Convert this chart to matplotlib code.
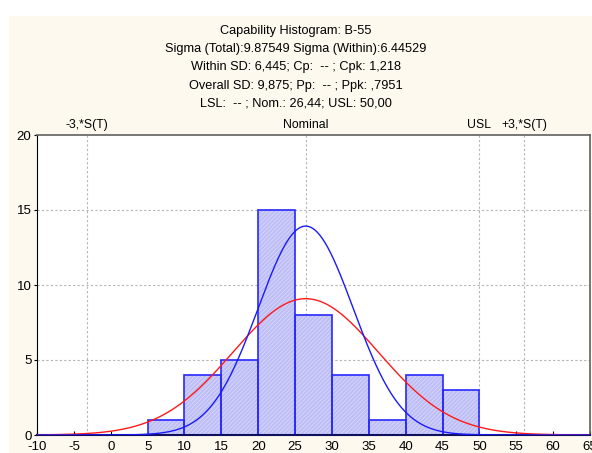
import numpy as np
import matplotlib.pyplot as plt
from matplotlib.patches import Rectangle
import matplotlib.transforms as mtransforms

# histogram data
bin_edges = [5, 10, 15, 20, 25, 30, 35, 40, 45, 50]
counts = [1, 4, 5, 15, 8, 4, 1, 4, 3]

# capability statistics
nominal = 26.44
usl = 50.0
sigma_total = 9.87549
sigma_within = 6.44529

title_lines = [
    "Capability Histogram: B-55",
    "Sigma (Total):9.87549 Sigma (Within):6.44529",
    "Within SD: 6,445; Cp:  -- ; Cpk: 1,218",
    "Overall SD: 9,875; Pp:  -- ; Ppk: ,7951",
    "LSL:  -- ; Nom.: 26,44; USL: 50,00",
]

xticks = list(range(-10, 70, 5))
yticks = [0, 5, 10, 15, 20]

plt.rcParams['font.family'] = ['Liberation Sans', 'DejaVu Sans']
plt.rcParams['axes.unicode_minus'] = False
plt.rcParams['hatch.linewidth'] = 0.6

fig = plt.figure(figsize=(5.92, 4.53), dpi=100, facecolor='white')
fig.patches.append(Rectangle((9 / 592, 0), 1, 1 - 16 / 453, transform=fig.transFigure,
                             facecolor='#fdf9ee', edgecolor='none', zorder=-10))
ax = fig.add_axes([37 / 592, 18 / 453, 553 / 592, 300 / 453])
ax.set_facecolor('white')

# bars: hatched fill first (hatch takes the edge colour), then the blue outline
widths = np.diff(bin_edges)
ax.bar(bin_edges[:-1], counts, width=widths, align='edge', facecolor='#bebef6',
       edgecolor='#d8d8fc', linewidth=0, hatch='////////', zorder=2)
ax.bar(bin_edges[:-1], counts, width=widths, align='edge', facecolor='none',
       edgecolor='#2828ff', linewidth=1.2, zorder=2)

# fitted normal curves
n = sum(counts)
bw = widths[0]
xs = np.linspace(-10, 65, 600)
for s, col in [(sigma_total, '#ff1a1a'), (sigma_within, '#1a1aff')]:
    ys = n * bw / (s * np.sqrt(2 * np.pi)) * np.exp(-0.5 * ((xs - nominal) / s) ** 2)
    ax.plot(xs, ys, color=col, linewidth=1.0, zorder=3)

# reference lines
lo3 = nominal - 3 * sigma_total
hi3 = nominal + 3 * sigma_total
for xv in [lo3, nominal, usl, hi3]:
    ax.axvline(xv, color='#b4b4b4', linestyle=(0, (2, 2)), linewidth=0.8, zorder=1)
for yv in [5, 10, 15]:
    ax.axhline(yv, color='#b4b4b4', linestyle=(0, (2, 2)), linewidth=0.8, zorder=1)

trans = mtransforms.blended_transform_factory(ax.transData, ax.transAxes)
for xv, lab in [(lo3, '-3,*S(T)'), (nominal, 'Nominal'), (usl, 'USL'), (hi3, '+3,*S(T)')]:
    ax.text(xv, 1.012, lab, transform=trans, ha='center', va='bottom', fontsize=8.8)

ax.set_xlim(-10, 65)
ax.set_ylim(0, 20)
ax.set_xticks(xticks)
ax.set_yticks(yticks)
ax.tick_params(axis='x', direction='in', length=3, labelsize=9.5, pad=4)
ax.tick_params(axis='y', direction='out', length=2, labelsize=9.5, pad=2)
for sp in ['top', 'right']:
    ax.spines[sp].set_color('#606060')
    ax.spines[sp].set_linewidth(1.2)
ax.spines['left'].set_color('black')
ax.spines['bottom'].set_color('#101060')
ax.spines['bottom'].set_linewidth(1.5)

ys_title = [31, 49, 67, 86, 104]
for yy, line in zip(ys_title, title_lines):
    fig.text(296 / 592, 1 - yy / 453, line, ha='center', va='center', fontsize=9.2)

fig.savefig('out.png', dpi=100, facecolor=fig.get_facecolor())
